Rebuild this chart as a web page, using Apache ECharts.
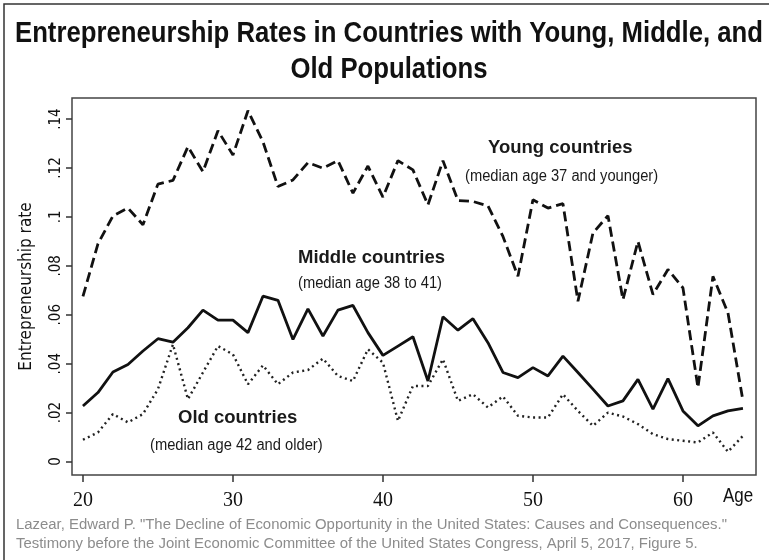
<!DOCTYPE html>
<html>
<head>
<meta charset="utf-8">
<script src="https://cdn.jsdelivr.net/npm/echarts@6/dist/echarts.min.js"></script>
<style>
html,body{margin:0;padding:0;background:#fff;}
#chart{width:769px;height:560px;}
</style>
</head>
<body>
<div id="chart"></div>
<script>
const ages = [20,21,22,23,24,25,26,27,28,29,30,31,32,33,34,35,36,37,38,39,40,41,42,43,44,45,46,47,48,49,50,51,52,53,54,55,56,57,58,59,60,61,62,63,64];
const youngRates = [0.0675,0.089,0.1004,0.1036,0.0968,0.1134,0.1149,0.1287,0.1185,0.1352,0.1253,0.1434,0.1307,0.1124,0.1151,0.1222,0.1199,0.1230,0.1097,0.1208,0.1081,0.1230,0.1192,0.1049,0.1230,0.1067,0.1063,0.1045,0.092,0.0757,0.107,0.1036,0.1054,0.0655,0.0934,0.1005,0.0662,0.090,0.0683,0.0785,0.071,0.0302,0.0757,0.0608,0.0248];
const middleRates = [0.0227,0.0282,0.0366,0.0397,0.0452,0.0502,0.0488,0.0547,0.0619,0.0578,0.0578,0.0527,0.0676,0.0659,0.0499,0.0624,0.0513,0.0619,0.0638,0.0527,0.0434,0.0472,0.0510,0.0329,0.0592,0.0537,0.0584,0.0486,0.0364,0.0343,0.0384,0.0350,0.0431,0.0364,0.0296,0.0227,0.0248,0.0336,0.0214,0.0339,0.0207,0.0146,0.0187,0.0207,0.0217];
const oldRates = [0.0089,0.0119,0.0194,0.016,0.0194,0.0296,0.0479,0.0255,0.0364,0.0472,0.0438,0.0316,0.0393,0.0316,0.0364,0.0374,0.0421,0.035,0.0329,0.0459,0.0404,0.0166,0.0309,0.0309,0.0418,0.0248,0.0275,0.0221,0.0266,0.0187,0.018,0.018,0.0275,0.0207,0.0146,0.020,0.0184,0.0153,0.0112,0.0092,0.0085,0.0078,0.0119,0.004,0.0105];
const xTicks = [20,30,40,50,60];
const yTicks = [0,0.02,0.04,0.06,0.08,0.1,0.12,0.14];

const titleLines = ['Entrepreneurship Rates in Countries with Young, Middle, and', 'Old Populations'];
const footerLines = [
  'Lazear, Edward P. "The Decline of Economic Opportunity in the United States: Causes and Consequences."',
  'Testimony before the Joint Economic Committee of the United States Congress, April 5, 2017, Figure 5.'
];

const SANS = '"Liberation Sans",Arial,sans-serif';
const NARROW = '"DejaVu Sans Condensed","Liberation Sans",sans-serif';

const mctx = document.createElement('canvas').getContext('2d');
function textW(font, txt){ mctx.font = font; return mctx.measureText(txt).width; }

function pairs(vals){ return ages.map((a,i)=>[a, vals[i]]); }

const titleFont = 'bold 29px ' + SANS;
const titleScale = 748 / textW(titleFont, titleLines[0]);
const footFont = '14px ' + SANS;
const footScale = (727 - 16) / textW(footFont, footerLines[0]);
const subFont = '16px ' + SANS;
const subScale = 0.92;
const ageFont = '20px ' + SANS;

const chart = echarts.init(document.getElementById('chart'), null, {renderer:'canvas'});
chart.setOption({
  animation:false,
  backgroundColor:'#fff',
  grid:{left:72, top:98, right:13, bottom:85, show:true, borderColor:'#444', borderWidth:1.5, containLabel:false},
  xAxis:{
    type:'value', min:19.27, max:64.87, position:'bottom',
    axisLine:{show:false, onZero:false},
    splitLine:{show:false},
    axisTick:{show:true, customValues:xTicks, length:7, lineStyle:{color:'#333', width:1.5}},
    axisLabel:{customValues:xTicks, margin:16, fontFamily:'"Liberation Serif","Times New Roman",serif', fontSize:20, color:'#111'}
  },
  yAxis:{
    type:'value', min:-0.0055, max:0.1486, position:'left',
    name:'Entrepreneurship rate', nameLocation:'middle', nameGap:37, nameRotate:90,
    nameTextStyle:{fontFamily:NARROW, fontSize:17, color:'#111'},
    axisLine:{show:false, onZero:false},
    splitLine:{show:false},
    axisTick:{show:true, customValues:yTicks, length:6, lineStyle:{color:'#333', width:1.5}},
    axisLabel:{customValues:yTicks, rotate:90, margin:8, fontFamily:NARROW, fontSize:15, color:'#111',
      formatter:function(v){ if (Math.abs(v) < 1e-9) return '0'; return String(+v.toFixed(2)).replace(/^0/, ''); }}
  },
  series:[
    {name:'Young countries', type:'line', data:pairs(youngRates), symbol:'none',
     lineStyle:{color:'#111', width:2.8, type:[10,5], cap:'butt'}},
    {name:'Middle countries', type:'line', data:pairs(middleRates), symbol:'none',
     lineStyle:{color:'#111', width:2.8, type:'solid'}},
    {name:'Old countries', type:'line', data:pairs(oldRates), symbol:'none',
     lineStyle:{color:'#222', width:2.4, type:[2,3.5], cap:'butt'}}
  ],
  graphic:[
    {type:'rect', shape:{x:4, y:4, width:800, height:600}, style:{fill:'none', stroke:'#333', lineWidth:1.5}, silent:true},
    {type:'text', x:389, y:34, scaleX:titleScale, style:{text:titleLines[0], font:titleFont, fill:'#111', textAlign:'center', textVerticalAlign:'middle'}},
    {type:'text', x:389, y:70, scaleX:titleScale, style:{text:titleLines[1], font:titleFont, fill:'#111', textAlign:'center', textVerticalAlign:'middle'}},
    {type:'text', x:488, y:148, style:{text:'Young countries', font:'bold 18.5px '+SANS, fill:'#1a1a1a', textVerticalAlign:'middle'}},
    {type:'text', x:465, y:177, scaleX:subScale, style:{text:'(median age 37 and younger)', font:subFont, fill:'#1a1a1a', textVerticalAlign:'middle'}},
    {type:'text', x:298, y:258, style:{text:'Middle countries', font:'bold 18.5px '+SANS, fill:'#1a1a1a', textVerticalAlign:'middle'}},
    {type:'text', x:298, y:284, scaleX:subScale, style:{text:'(median age 38 to 41)', font:subFont, fill:'#1a1a1a', textVerticalAlign:'middle'}},
    {type:'text', x:178, y:418, style:{text:'Old countries', font:'bold 18.5px '+SANS, fill:'#1a1a1a', textVerticalAlign:'middle'}},
    {type:'text', x:150, y:446, scaleX:subScale, style:{text:'(median age 42 and older)', font:subFont, fill:'#1a1a1a', textVerticalAlign:'middle'}},
    {type:'text', x:723, y:496, scaleX:0.85, style:{text:'Age', font:ageFont, fill:'#111', textVerticalAlign:'middle'}},
    {type:'text', x:16, y:525, scaleX:footScale, style:{text:footerLines[0], font:footFont, fill:'#8c8c8c', textVerticalAlign:'middle'}},
    {type:'text', x:16, y:544, scaleX:footScale, style:{text:footerLines[1], font:footFont, fill:'#8c8c8c', textVerticalAlign:'middle'}}
  ]
});
</script>
</body>
</html>
